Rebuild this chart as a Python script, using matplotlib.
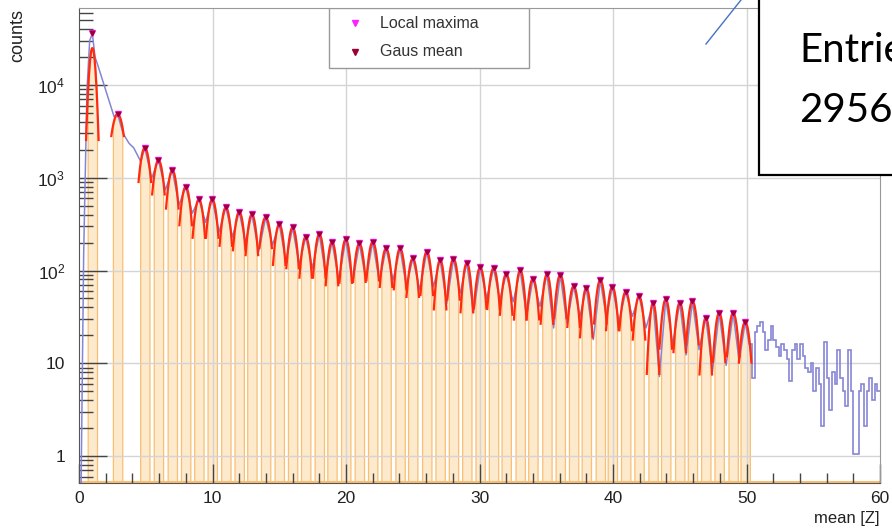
import numpy as np
import matplotlib.pyplot as plt
from matplotlib.patches import Rectangle
from matplotlib.lines import Line2D
from matplotlib.ticker import MultipleLocator, LogLocator, FixedLocator, FixedFormatter, NullFormatter

# peak positions (gaus mean) and local maxima heights
peak_z = [1.0, 2.89, 4.93, 5.95, 6.99, 7.99, 8.98, 9.98, 11.0, 12.0,
          12.95, 13.98, 15.0, 16.0, 16.98, 18.0, 18.95, 19.98, 21.0, 22.0,
          23.0, 24.05, 25.0, 26.05, 27.05, 28.05, 29.05, 30.05, 31.05, 32.0,
          33.05, 34.0, 35.05, 36.05, 37.05, 38.0, 39.05, 39.95, 40.95, 41.95,
          43.0, 43.95, 45.0, 45.95, 46.95, 47.95, 49.0, 49.9]
peak_counts = [36000, 4860, 2110, 1550, 1210, 800, 586, 586, 480, 430,
               404, 375, 317, 292, 231, 247, 204, 217, 196, 204,
               173, 173, 135, 160, 130, 134, 121, 108, 106, 92,
               101, 82, 91, 90, 68, 65, 79, 67, 59, 53,
               45, 49, 45, 47, 31, 35, 35, 28]

# gaussian fit amplitude and width for each peak
fit_counts = [25000] + peak_counts[1:]
fit_sigma = [0.22, 0.45, 0.36, 0.36, 0.34, 0.34, 0.34, 0.34, 0.34, 0.34,
             0.33, 0.38, 0.33, 0.33, 0.33, 0.32, 0.32, 0.32, 0.34, 0.34,
             0.34, 0.33, 0.34, 0.32, 0.30, 0.33, 0.30, 0.33, 0.33, 0.33,
             0.30, 0.33, 0.30, 0.32, 0.33, 0.30, 0.32, 0.32, 0.34, 0.32,
             0.25, 0.30, 0.30, 0.32, 0.28, 0.30, 0.32, 0.33]

# raw histogram: low-Z region, minima between peaks Z=5..50, and tail above Z=50
head_z = [0.15, 0.35, 0.45, 0.6, 0.8, 1.0, 1.2, 1.4, 2.0, 2.63, 2.89, 3.3, 3.75, 4.1, 4.63]
head_counts = [0.4, 150, 800, 9000, 30000, 36000, 20000, 16500, 8800, 4550,
               4860, 3000, 2350, 2100, 1490]
valley_counts = [986, 740, 508, 414, 330, 260, 230, 200, 160, 188,
                 124, 115, 106, 90, 79, 73, 79, 76, 79, 67,
                 62, 67, 44, 57, 35, 50, 48, 46, 32, 41,
                 24, 27, 32, 18, 31, 28, 32, 24, 7.2, 16,
                 12.3, 14, 8.1, 9.5, 10.4]
tail_counts = [16, 7, 22, 25, 28, 22, 14, 18, 25, 18,
               15, 12, 16, 14, 11, 6.5, 14, 16, 11, 16,
               12, 9, 8, 10, 5, 9, 6, 2.1, 17, 7,
               3.1, 8, 6, 14, 7, 5, 3.5, 14, 5, 1.05,
               1.05, 5, 6, 2.1, 5, 7, 4, 6, 5]

x_ticks = [0, 10, 20, 30, 40, 50, 60]
y_ticks = [1, 10, 100, 1000, 10000]
y_labels = ['1', '10', r'$10^{2}$', r'$10^{3}$', r'$10^{4}$']

plt.rcParams['font.family'] = ['Liberation Sans', 'DejaVu Sans']
plt.rcParams['mathtext.fontset'] = 'custom'
plt.rcParams['mathtext.rm'] = 'Liberation Sans'
plt.rcParams['mathtext.it'] = 'Liberation Sans:italic'

W, H = 892, 530
fig = plt.figure(figsize=(W / 100, H / 100), dpi=100)
ax = fig.add_axes([79 / W, 1 - 483 / H, 801 / W, 475 / H])
ax.set_yscale('log')
ax.set_xlim(0, 60)
ax.set_ylim(0.512, 67600)

# grid
for x in x_ticks[1:-1]:
    ax.axvline(x, color='#d4d4d4', lw=1, zorder=1.5)
for y in y_ticks:
    ax.axhline(y, color='#d4d4d4', lw=1, zorder=1.5)

# selected ranges around each peak
for mu, a, s in zip(peak_z, fit_counts, fit_sigma):
    zz = np.linspace(mu - 0.35, mu + 0.35, 40)
    ax.fill_between(zz, a * np.exp(-0.5 * ((zz - mu) / s) ** 2), 0.1,
                    facecolor='#fde9cc', edgecolor='#f9bf73', lw=0.9, zorder=1)
ax.axhline(0.52, color='#f9bf73', lw=1.5, zorder=1)

# raw histogram
trace_z = list(head_z)
trace_c = list(head_counts)
for i in range(2, len(peak_z)):
    trace_z.append(peak_z[i])
    trace_c.append(peak_counts[i])
    if i - 2 < len(valley_counts):
        trace_z.append(0.5 * (peak_z[i] + peak_z[i + 1]))
        trace_c.append(valley_counts[i - 2])
tail_edges = 50.2 + 0.2 * np.arange(len(tail_counts) + 1)
trace_z.append(tail_edges[0])
trace_c.append(tail_counts[0])
ax.plot(trace_z, trace_c, color='#8585d6', lw=1.1, zorder=2)
ax.stairs(tail_counts, tail_edges, baseline=None, color='#8585d6', lw=1.2, zorder=2)

# gaussian fits
for mu, a, s in zip(peak_z, fit_counts, fit_sigma):
    zz = np.linspace(mu - 0.47, mu + 0.47, 80)
    ax.plot(zz, a * np.exp(-0.5 * ((zz - mu) / s) ** 2), color='#ff2a10', lw=1.6, zorder=3)

ax.plot(peak_z, peak_counts, 'v', color='#ff22ff', ms=4.5, zorder=4)
ax.plot(peak_z, peak_counts, 'v', color='#9a0030', ms=3.2, zorder=5)

# axes styling
ax.xaxis.set_major_locator(FixedLocator(x_ticks))
ax.xaxis.set_minor_locator(MultipleLocator(2))
ax.yaxis.set_major_locator(FixedLocator(y_ticks))
ax.yaxis.set_major_formatter(FixedFormatter(y_labels))
ax.yaxis.set_minor_locator(LogLocator(base=10, subs=np.arange(2, 10)))
ax.yaxis.set_minor_formatter(NullFormatter())
ax.tick_params(axis='both', which='both', direction='in', colors='#444444',
               labelcolor='#222222', labelsize=12.5, top=False, right=False)
ax.tick_params(axis='x', which='major', length=14, width=1, pad=6)
ax.tick_params(axis='x', which='minor', length=7, width=1)
ax.tick_params(axis='y', which='major', length=20, width=1, pad=10)
ax.tick_params(axis='y', which='minor', length=10, width=1)
for side in ['left', 'bottom']:
    ax.spines[side].set_color('#555555')
for side in ['top', 'right']:
    ax.spines[side].set_color('#999999')

fig.text(18 / W, 1 - 9 / H, 'counts', rotation=90, ha='center', va='top',
         fontsize=13, color='#222222')
fig.text(880 / W, 1 - 518 / H, 'mean [Z]', ha='right', va='center',
         fontsize=12, color='#222222')

# legend box
ax.add_patch(Rectangle((0.312, 0.8737), 0.2497, 0.1263, transform=ax.transAxes,
                       facecolor='white', edgecolor='#999999', lw=1, zorder=6))
ax.plot([0.3446], [0.9684], 'v', color='#ff22ff', ms=4, transform=ax.transAxes, zorder=7)
ax.plot([0.3446], [0.9074], 'v', color='#9a0030', ms=4, transform=ax.transAxes, zorder=7)
ax.text(0.3758, 0.9684, 'Local maxima', transform=ax.transAxes, va='center',
        fontsize=11.5, color='#333333', zorder=7)
ax.text(0.3758, 0.9074, 'Gaus mean', transform=ax.transAxes, va='center',
        fontsize=11.5, color='#333333', zorder=7)

# entries box overlay
fig.add_artist(Rectangle((759 / W, 1 - 175 / H), 0.3, 0.5, transform=fig.transFigure,
                         facecolor='white', edgecolor='black', lw=1.6, zorder=10))
fig.add_artist(Line2D([706 / W, 741 / W], [1 - 44 / H, 1.0], transform=fig.transFigure,
                      color='#4472c4', lw=1, zorder=10))
fig.text(799 / W, 1 - 62 / H, 'Entries', fontsize=29, family=['Lato', 'DejaVu Sans'],
         va='baseline', color='black', zorder=11)
fig.text(799 / W, 1 - 122 / H, '2956', fontsize=29, family=['Lato', 'DejaVu Sans'],
         va='baseline', color='black', zorder=11)

fig.savefig('out.png', dpi=100)
